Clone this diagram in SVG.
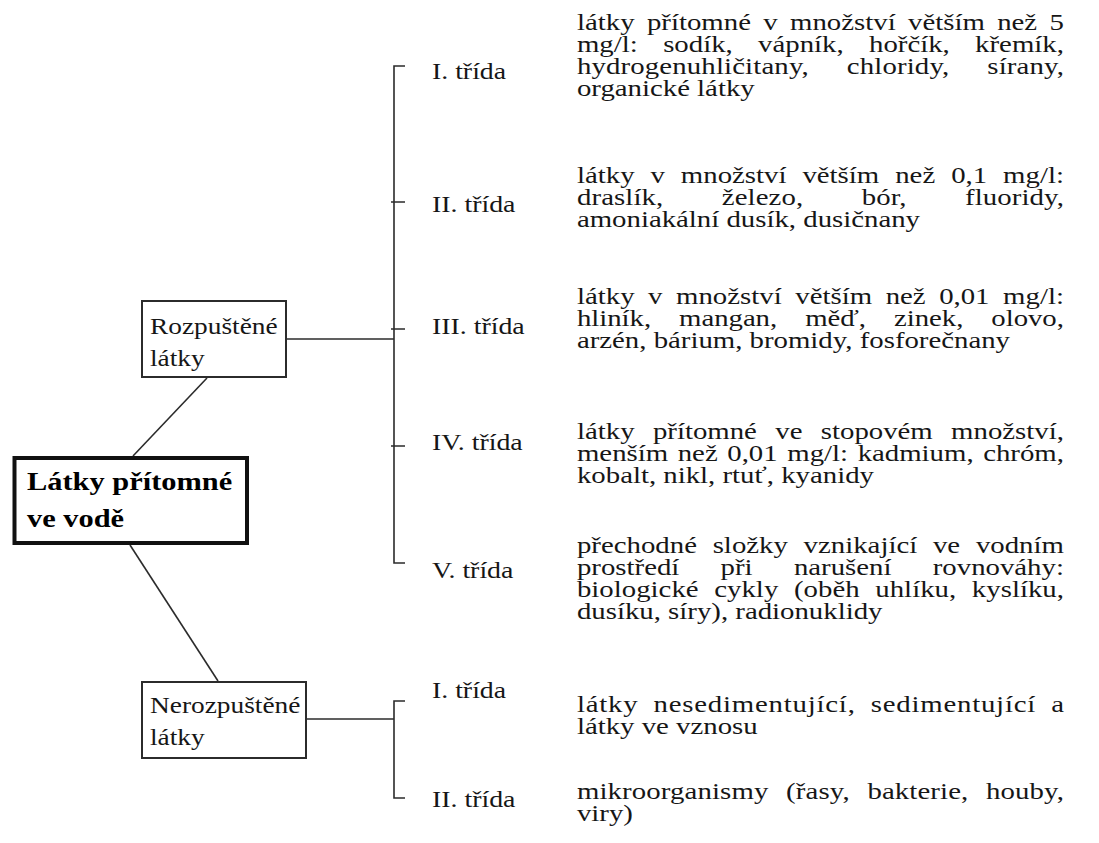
<svg xmlns="http://www.w3.org/2000/svg" width="1099" height="843" viewBox="0 0 1099 843">
<style>
.ln{stroke:#2b2b2b;stroke-width:1.6;fill:none}
.box{fill:#fff;stroke:#2b2b2b;stroke-width:2}
.main{fill:#fff;stroke:#111;stroke-width:4}
.t{font-family:"Liberation Serif","Times New Roman",serif;fill:#161616}
.p{font-size:24px}
.lb{font-size:23.8px}
.bx{font-size:23.4px}
.tt{font-size:26px;font-weight:bold;fill:#000}
</style>
<rect width="1099" height="843" fill="#fff"/>
<g id="connectors">
<path class="ln" d="M133,456 L207,378"/>
<path class="ln" d="M130,545 L218,681"/>
<path class="ln" d="M287,339 H394"/>
<path class="ln" d="M405,66 H394 V563 H405"/>
<path class="ln" d="M391,202 H405 M391,329 H405 M391,446 H405"/>
<path class="ln" d="M307,719 H394"/>
<path class="ln" d="M405,701 H394 V798 H405"/>
</g>
<g id="node-main">
<rect class="main" x="14.5" y="458" width="232.5" height="85"/>
<g transform="scale(1.17,1)">
<text class="t tt" x="23.1" y="490">Látky přítomné</text>
<text class="t tt" x="23.1" y="527">ve vodě</text>
</g>
</g>
<g id="node-rozpustene">
<rect class="box" x="142" y="301" width="144" height="76"/>
<g transform="scale(1.17,1)">
<text class="t bx" x="128.2" y="334">Rozpuštěné</text>
<text class="t bx" x="128.2" y="366">látky</text>
</g>
</g>
<g id="node-nerozpustene">
<rect class="box" x="142" y="682" width="164" height="76"/>
<g transform="scale(1.17,1)">
<text class="t bx" x="128.2" y="713">Nerozpuštěné</text>
<text class="t bx" x="128.2" y="745">látky</text>
</g>
</g>
<g id="labels" transform="scale(1.17,1)">
<text class="t lb" x="369.2" y="79">I. třída</text>
<text class="t lb" x="369.2" y="212">II. třída</text>
<text class="t lb" x="369.2" y="334">III. třída</text>
<text class="t lb" x="369.2" y="450">IV. třída</text>
<text class="t lb" x="369.2" y="578">V. třída</text>
<text class="t lb" x="369.2" y="698">I. třída</text>
<text class="t lb" x="369.2" y="807">II. třída</text>
</g>
<g id="descriptions" transform="scale(1.2,1)">
<g id="d1">
<text class="t p" x="480.8" y="30" textLength="405.8" style="word-spacing:4.3px">látky přítomné v množství větším než 5</text>
<text class="t p" x="480.8" y="52" textLength="405.8" style="word-spacing:15.1px">mg/l: sodík, vápník, hořčík, křemík,</text>
<text class="t p" x="480.8" y="74" textLength="405.8" style="word-spacing:25.5px">hydrogenuhličitany, chloridy, sírany,</text>
<text class="t p" x="480.8" y="96">organické látky</text>
</g>
<g id="d2">
<text class="t p" x="480.8" y="183" textLength="405.8" style="word-spacing:7.3px">látky v množství větším než 0,1 mg/l:</text>
<text class="t p" x="480.8" y="205" textLength="405.8" style="word-spacing:42.6px">draslík, železo, bór, fluoridy,</text>
<text class="t p" x="480.8" y="227">amoniakální dusík, dusičnany</text>
</g>
<g id="d3">
<text class="t p" x="480.8" y="304" textLength="405.8" style="word-spacing:5.3px">látky v množství větším než 0,01 mg/l:</text>
<text class="t p" x="480.8" y="326" textLength="405.8" style="word-spacing:17.4px">hliník, mangan, měď, zinek, olovo,</text>
<text class="t p" x="480.8" y="348">arzén, bárium, bromidy, fosforečnany</text>
</g>
<g id="d4">
<text class="t p" x="480.8" y="439" textLength="405.8" style="word-spacing:9.3px">látky přítomné ve stopovém množství,</text>
<text class="t p" x="480.8" y="461" textLength="405.8" style="word-spacing:2px">menším než 0,01 mg/l: kadmium, chróm,</text>
<text class="t p" x="480.8" y="483">kobalt, nikl, rtuť, kyanidy</text>
</g>
<g id="d5">
<text class="t p" x="480.8" y="553" textLength="405.8" style="word-spacing:7.1px">přechodné složky vznikající ve vodním</text>
<text class="t p" x="480.8" y="575" textLength="405.8" style="word-spacing:28.4px">prostředí při narušení rovnováhy:</text>
<text class="t p" x="480.8" y="597" textLength="405.8" style="word-spacing:7.1px">biologické cykly (oběh uhlíku, kyslíku,</text>
<text class="t p" x="480.8" y="619">dusíku, síry), radionuklidy</text>
</g>
<g id="d6">
<text class="t p" x="480.8" y="712" textLength="405.8" style="word-spacing:5.9px">látky nesedimentující, sedimentující a</text>
<text class="t p" x="480.8" y="734">látky ve vznosu</text>
</g>
<g id="d7">
<text class="t p" x="480.8" y="799" textLength="405.8" style="word-spacing:8.6px">mikroorganismy (řasy, bakterie, houby,</text>
<text class="t p" x="480.8" y="821">viry)</text>
</g>
</g>
</svg>
